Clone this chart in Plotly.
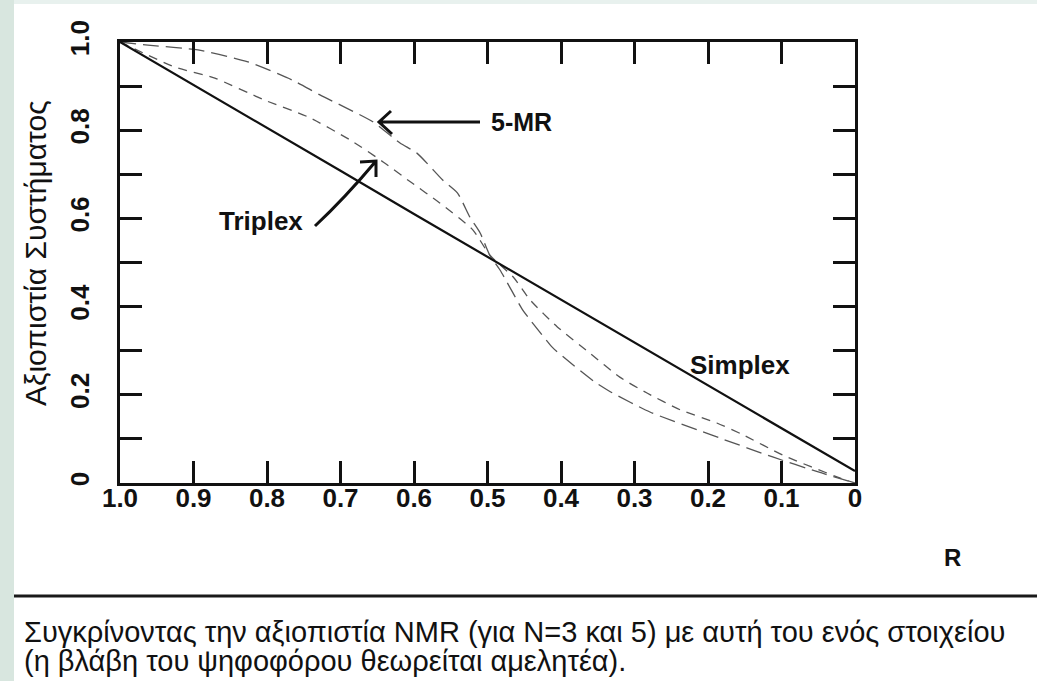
import plotly.graph_objects as go

# ---------------- data ----------------
simplex_R = [1.0, 0.9, 0.8, 0.7, 0.6, 0.5, 0.4, 0.3, 0.2, 0.1, 0.0]
simplex_V = [1.0, 0.903, 0.805, 0.708, 0.61, 0.513, 0.416, 0.318, 0.221, 0.124, 0.027]

triplex_R = [1.0, 0.925, 0.871, 0.803, 0.744, 0.687, 0.642, 0.605, 0.565, 0.520, 0.497,
             0.465, 0.442, 0.405, 0.361, 0.320, 0.283, 0.238, 0.188, 0.152, 0.098, 0.020, 0.0]
triplex_V = [1.0, 0.943, 0.918, 0.868, 0.830, 0.778, 0.728, 0.683, 0.635, 0.574, 0.517,
             0.467, 0.415, 0.354, 0.295, 0.240, 0.204, 0.166, 0.136, 0.109, 0.063, 0.011, 0.0]

mr5_R = [1.0, 0.962, 0.894, 0.826, 0.766, 0.728, 0.656, 0.619, 0.596, 0.561, 0.541, 0.524,
         0.510, 0.497, 0.483, 0.452, 0.442, 0.412, 0.397, 0.354, 0.333, 0.279, 0.207, 0.184,
         0.112, 0.05, 0.0]
mr5_V = [1.0, 0.993, 0.982, 0.955, 0.914, 0.880, 0.819, 0.771, 0.748, 0.687, 0.658, 0.603,
         0.567, 0.517, 0.483, 0.392, 0.370, 0.308, 0.286, 0.229, 0.207, 0.161, 0.116, 0.102,
         0.059, 0.025, 0.0]

x_tickvals = [1.0, 0.9, 0.8, 0.7, 0.6, 0.5, 0.4, 0.3, 0.2, 0.1, 0.0]
x_ticktext = ["1.0", "0.9", "0.8", "0.7", "0.6", "0.5", "0.4", "0.3", "0.2", "0.1", "0"]
y_tickvals = [0, 0.1, 0.2, 0.3, 0.4, 0.5, 0.6, 0.7, 0.8, 0.9, 1.0]
y_ticktext = ["0", "", "0.2", "", "0.4", "", "0.6", "", "0.8", "", "1.0"]

y_title = "Αξιοπιστία Συστήματος"
x_title = "R"
caption1 = "Συγκρίνοντας την αξιοπιστία NMR (για N=3 και 5) με αυτή του ενός στοιχείου"
caption2 = "(η βλάβη του ψηφοφόρου θεωρείται αμελητέα)."

# ---------------- layout geometry (pixels) ----------------
W, H = 1037, 681
L, R_, T, B = 120, 855, 42, 483
PW, PH = R_ - L, B - T


def px2R(x):
    return 1 - (x - L) / PW


def py2V(y):
    return (B - y) / PH


def pxp(x):  # pixel -> paper x
    return (x - L) / PW


def pyp(y):  # pixel -> paper y
    return (B - y) / PH


FONT = "Liberation Sans, Arial, sans-serif"

fig = go.Figure()
fig.add_trace(go.Scatter(x=mr5_R, y=mr5_V, mode="lines", name="5-MR",
                         line=dict(color="#555555", width=1.3, dash="16px,7px", shape="spline", smoothing=0.6)))
fig.add_trace(go.Scatter(x=triplex_R, y=triplex_V, mode="lines", name="Triplex",
                         line=dict(color="#555555", width=1.3, dash="9px,7px", shape="spline", smoothing=0.6)))
fig.add_trace(go.Scatter(x=simplex_R, y=simplex_V, mode="lines", name="Simplex",
                         line=dict(color="#111111", width=2.2)))

shapes = [
    # left strip and top strip of the slide background
    dict(type="rect", xref="paper", yref="paper", x0=pxp(0), x1=pxp(14), y0=pyp(H), y1=pyp(0),
         fillcolor="#d8e6df", line=dict(width=0), layer="below"),
    dict(type="rect", xref="paper", yref="paper", x0=pxp(14), x1=pxp(W), y0=pyp(4), y1=pyp(0),
         fillcolor="#e8f1ee", line=dict(width=0), layer="below"),
    # separator line
    dict(type="line", xref="paper", yref="paper", x0=pxp(14), x1=pxp(W), y0=pyp(596), y1=pyp(596),
         line=dict(color="#1a1a1a", width=3)),
    # 5-MR arrow
    dict(type="path", xref="x", yref="y",
         path=f"M {px2R(480)},{py2V(122)} L {px2R(379)},{py2V(122)} "
              f"M {px2R(391)},{py2V(111)} L {px2R(379)},{py2V(122)} L {px2R(392)},{py2V(134)}",
         line=dict(color="#111111", width=3)),
    # Triplex arrow (curved)
    dict(type="path", xref="x", yref="y",
         path=f"M {px2R(315)},{py2V(226)} Q {px2R(345)},{py2V(198)} {px2R(376)},{py2V(161)} "
              f"M {px2R(360)},{py2V(162)} L {px2R(376)},{py2V(161)} L {px2R(376)},{py2V(177)}",
         line=dict(color="#111111", width=3)),
]

annotations = [
    dict(text="5-MR", x=px2R(521), y=py2V(122), xref="x", yref="y", showarrow=False,
         xanchor="center", yanchor="middle",
         font=dict(family=FONT, size=25, color="#111111", weight="bold")),
    dict(text="Triplex", x=px2R(261), y=py2V(221), xref="x", yref="y", showarrow=False,
         xanchor="center", yanchor="middle",
         font=dict(family=FONT, size=26, color="#111111", weight="bold")),
    dict(text="Simplex", x=px2R(740), y=py2V(365), xref="x", yref="y", showarrow=False,
         xanchor="center", yanchor="middle",
         font=dict(family=FONT, size=26, color="#111111", weight="bold")),
    dict(text=x_title, x=pxp(952), y=pyp(557), xref="paper", yref="paper", showarrow=False,
         xanchor="center", yanchor="middle",
         font=dict(family=FONT, size=24, color="#111111", weight="bold")),
    dict(text=y_title, x=pxp(35), y=pyp(253), xref="paper", yref="paper", showarrow=False,
         xanchor="center", yanchor="middle",
         textangle=-90, font=dict(family=FONT, size=30, color="#111111")),
    dict(text=caption1, x=pxp(22), y=pyp(632), xref="paper", yref="paper", showarrow=False,
         xanchor="left", yanchor="middle", font=dict(family=FONT, size=29, color="#111111")),
    dict(text=caption2, x=pxp(22), y=pyp(661), xref="paper", yref="paper", showarrow=False,
         xanchor="left", yanchor="middle", font=dict(family=FONT, size=29, color="#111111")),
]

axis_common = dict(showgrid=False, zeroline=False, showline=True, linecolor="#111111", linewidth=3,
                   mirror="ticks", ticks="inside", ticklen=22, tickwidth=3, tickcolor="#111111")

fig.update_layout(
    width=W, height=H,
    margin=dict(l=L, r=W - R_, t=T, b=H - B, pad=0),
    paper_bgcolor="white", plot_bgcolor="white",
    showlegend=False,
    shapes=shapes, annotations=annotations,
    xaxis=dict(range=[1.0, 0.0], tickvals=x_tickvals, ticktext=x_ticktext,
               tickfont=dict(family=FONT, size=26, color="#111111", weight="bold"),
               ticklabelstandoff=-10, **axis_common),
    yaxis=dict(range=[0.0, 1.0], tickvals=y_tickvals, ticktext=y_ticktext, tickangle=-90,
               tickfont=dict(family=FONT, size=26, color="#111111", weight="bold"),
               ticklabelstandoff=18, **axis_common),
)

fig.write_html("out.html", config={"displayModeBar": False},
               post_script="document.body.style.margin='0px';document.body.style.overflow='hidden';")
